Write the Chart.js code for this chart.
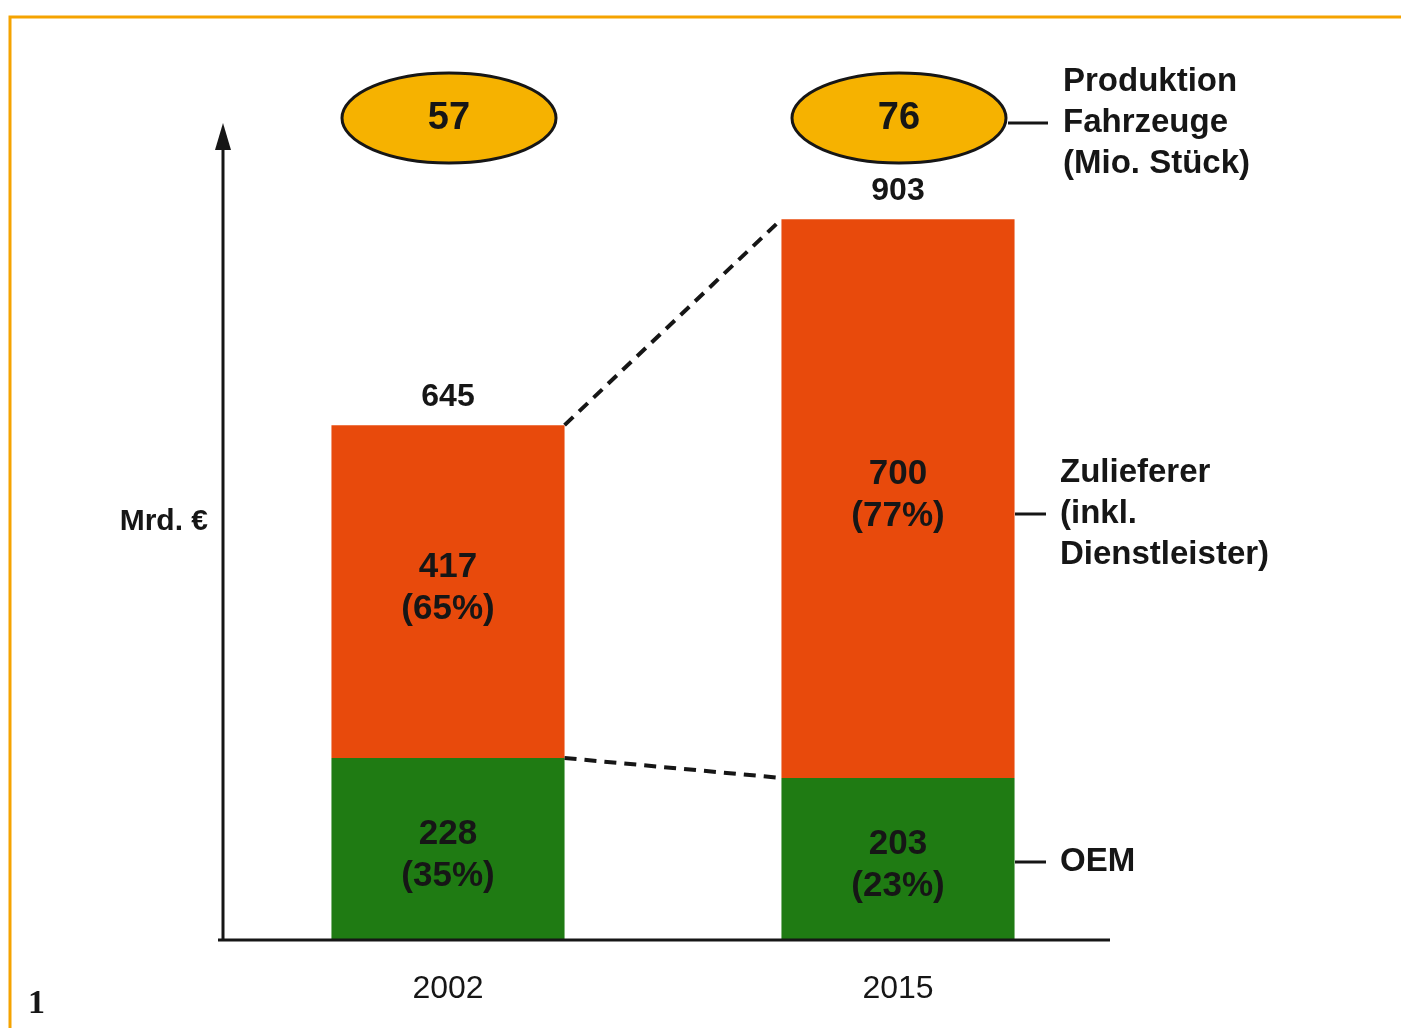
<!DOCTYPE html>
<html>
<head>
<meta charset="utf-8">
<script src="https://cdn.jsdelivr.net/npm/chart.js@4.4.0/dist/chart.umd.min.js"></script>
<style>
  html, body { margin: 0; padding: 0; background: #fff; }
  #wrap { width: 1401px; height: 1028px; position: relative; }
</style>
</head>
<body>
<div id="wrap"><canvas id="chart" width="1401" height="1028"></canvas></div>
<script>
// values
const years = ['2002', '2015'];
const oem = [228, 203];
const zulieferer = [417, 700];
const oemShare = ['35%', '23%'];
const zuliefererShare = ['65%', '77%'];
const production = [57, 76];

const FONT = '"Liberation Sans", Arial, sans-serif';
const ORANGE = '#E84A0C';
const GREEN = '#1F7B13';
const GOLD = '#F6B200';
const INK = '#161616';

function textLines(ctx, lines, x, y, lh) {
    const top = y - (lines.length - 1) * lh / 2;
    lines.forEach((l, i) => ctx.fillText(l, x, top + i * lh));
}

const overlay = {
    id: 'overlay',
    beforeDraw(chart) {
        const ctx = chart.ctx;
        ctx.save();
        // orange frame (top + left)
        ctx.strokeStyle = '#F5A300';
        ctx.lineWidth = 3;
        ctx.beginPath();
        ctx.moveTo(10, 1028);
        ctx.lineTo(10, 17);
        ctx.lineTo(1401, 17);
        ctx.stroke();
        ctx.restore();
    },
    afterDatasetsDraw(chart) {
        const ctx = chart.ctx;
        const area = chart.chartArea;
        const green = chart.getDatasetMeta(0).data;
        const red = chart.getDatasetMeta(1).data;
        ctx.save();

        // axes
        ctx.strokeStyle = INK;
        ctx.fillStyle = INK;
        ctx.lineWidth = 3;
        ctx.beginPath();
        ctx.moveTo(218, area.bottom);
        ctx.lineTo(1110, area.bottom);
        ctx.stroke();
        ctx.beginPath();
        ctx.moveTo(area.left, area.bottom + 1);
        ctx.lineTo(area.left, 140);
        ctx.stroke();
        ctx.beginPath();
        ctx.moveTo(area.left, 123);
        ctx.lineTo(area.left - 8, 150);
        ctx.lineTo(area.left + 8, 150);
        ctx.closePath();
        ctx.fill();

        // dashed connectors between the stack tops
        ctx.setLineDash([12, 8]);
        ctx.lineWidth = 4;
        [red, green].forEach(els => {
            const a = els[0], b = els[1];
            ctx.beginPath();
            ctx.moveTo(a.x + a.width / 2, a.y);
            ctx.lineTo(b.x - b.width / 2, b.y);
            ctx.stroke();
        });
        ctx.setLineDash([]);

        // labels inside bars
        ctx.textAlign = 'center';
        ctx.textBaseline = 'middle';
        ctx.fillStyle = INK;
        years.forEach((y, i) => {
            const g = green[i], r = red[i];
            ctx.font = 'bold 35px ' + FONT;
            textLines(ctx, [String(oem[i]), '(' + oemShare[i] + ')'], g.x, (g.y + g.base) / 2 + 6, 42);
            textLines(ctx, [String(zulieferer[i]), '(' + zuliefererShare[i] + ')'], r.x, (r.y + r.base) / 2 - 3, 42);
            // totals above bars
            ctx.font = 'bold 32px ' + FONT;
            ctx.fillText(String(oem[i] + zulieferer[i]), r.x, r.y - 28);
        });

        // production ellipses
        years.forEach((y, i) => {
            const cx = red[i].x + 1;
            ctx.beginPath();
            ctx.ellipse(cx, 118, 107, 45, 0, 0, Math.PI * 2);
            ctx.fillStyle = GOLD;
            ctx.fill();
            ctx.lineWidth = 3;
            ctx.strokeStyle = INK;
            ctx.stroke();
            ctx.fillStyle = INK;
            ctx.font = 'bold 38px ' + FONT;
            ctx.fillText(String(production[i]), cx, 119);
        });

        // side labels with leader lines
        ctx.lineWidth = 3;
        ctx.beginPath();
        ctx.moveTo(1008, 123); ctx.lineTo(1048, 123);
        ctx.moveTo(1015, 514); ctx.lineTo(1046, 514);
        ctx.moveTo(1015, 862); ctx.lineTo(1046, 862);
        ctx.stroke();
        ctx.textAlign = 'left';
        ctx.font = 'bold 33px ' + FONT;
        textLines(ctx, ['Produktion', 'Fahrzeuge', '(Mio. Stück)'], 1063, 123, 41);
        textLines(ctx, ['Zulieferer', '(inkl.', 'Dienstleister)'], 1060, 514, 41);
        ctx.fillText('OEM', 1060, 862);

        // y-axis unit
        ctx.textAlign = 'right';
        ctx.font = 'bold 30px ' + FONT;
        ctx.fillText('Mrd. €', 208, 522);

        // figure number
        ctx.textAlign = 'left';
        ctx.font = 'bold 34px "Liberation Serif", "DejaVu Serif", serif';
        ctx.fillText('1', 28, 1004);
        ctx.restore();
    }
};

new Chart(document.getElementById('chart'), {
    type: 'bar',
    data: {
        labels: years,
        datasets: [
            { label: 'OEM', data: oem, backgroundColor: GREEN, borderWidth: 0 },
            { label: 'Zulieferer (inkl. Dienstleister)', data: zulieferer, backgroundColor: ORANGE, borderWidth: 0 }
        ]
    },
    options: {
        responsive: false,
        animation: false,
        devicePixelRatio: 1,
        layout: { padding: { left: 223, right: 278, top: 125, bottom: 0 } },
        datasets: { bar: { barPercentage: 1, categoryPercentage: 0.518 } },
        plugins: { legend: { display: false }, tooltip: { enabled: false } },
        scales: {
            x: {
                stacked: true,
                grid: { display: false, drawTicks: false },
                border: { display: false },
                ticks: { color: INK, padding: 30, font: { family: FONT, size: 32 } },
                afterFit(scale) { scale.height = 88; }
            },
            y: {
                stacked: true,
                display: false,
                min: 0,
                max: 1021
            }
        }
    },
    plugins: [overlay]
});
</script>
</body>
</html>
